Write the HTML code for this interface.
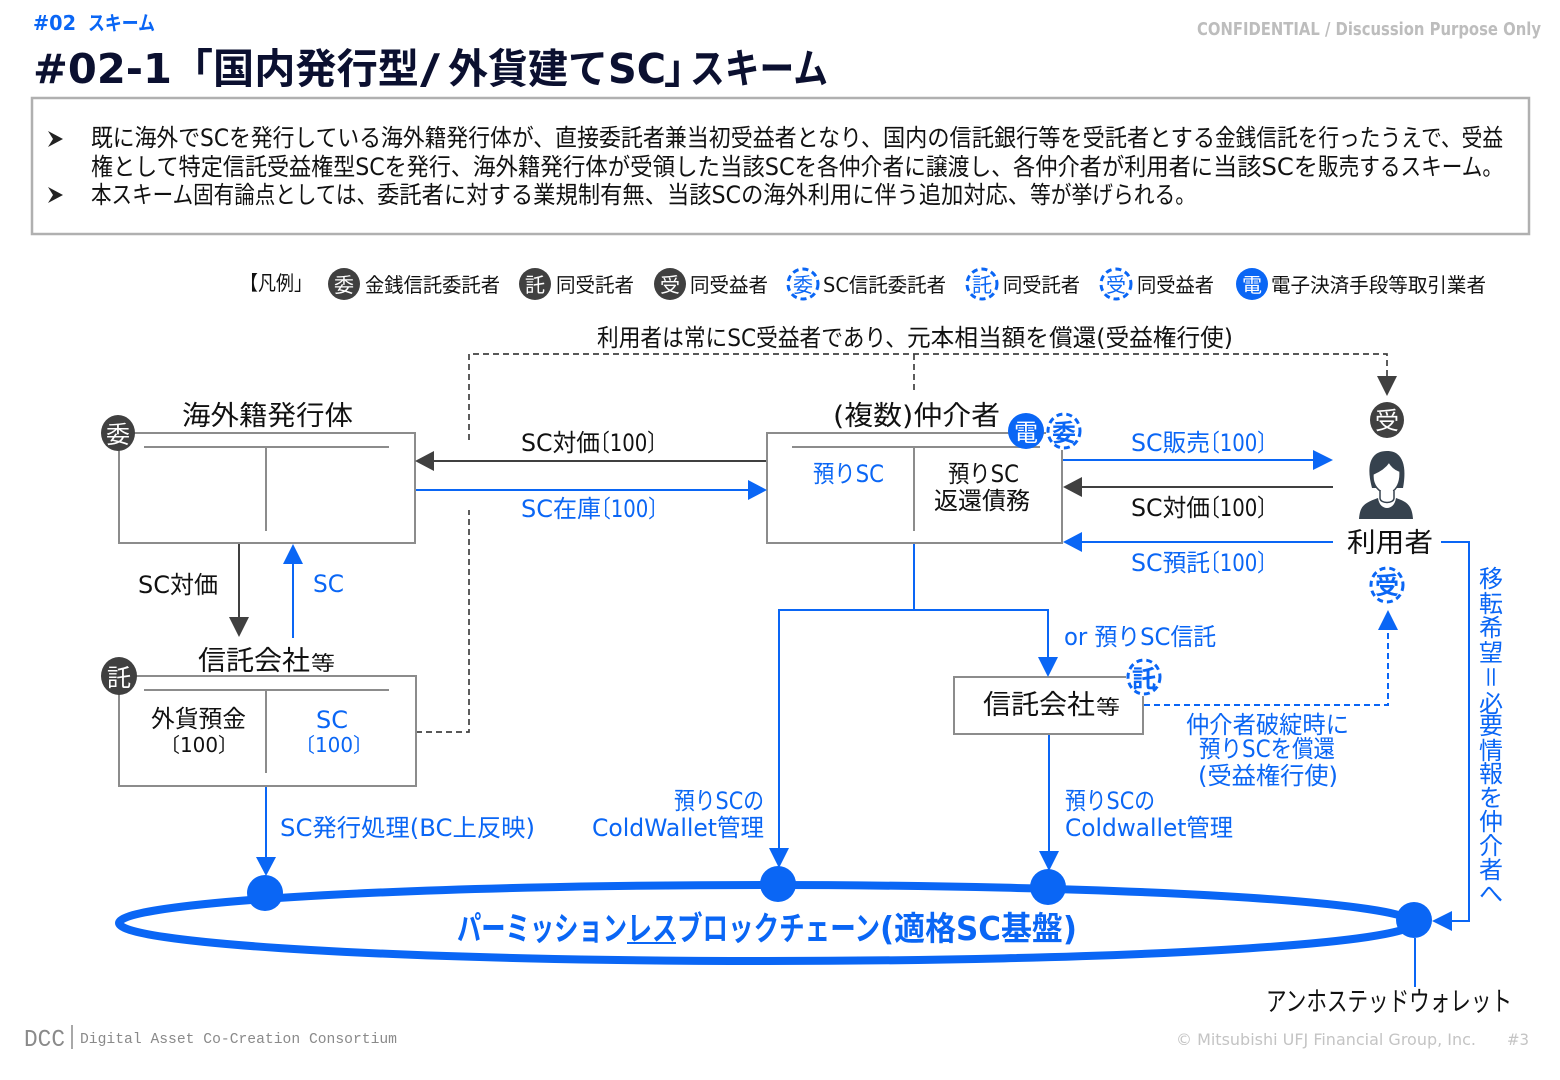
<!DOCTYPE html>
<html lang="ja">
<head>
<meta charset="utf-8">
<title>スキーム</title>
<style>
html,body{margin:0;padding:0;background:#fff;}
svg{display:block;}
text{font-family:"DejaVu Sans","Noto Sans CJK JP",sans-serif;fill:#111;}
.b{fill:#0a66f5;}
.w{fill:#fff;}
.sm{font-size:20px;}
.md{font-size:24px;}
.lg{font-size:27px;}
.ln{fill:none;stroke:#8c8c8c;stroke-width:2;}
.dk{fill:none;stroke:#404040;stroke-width:2;}
.bl{fill:none;stroke:#0a66f5;stroke-width:2;}
.ds{fill:none;stroke:#404040;stroke-width:1.7;stroke-dasharray:6 4;}
.bd{fill:none;stroke:#0a66f5;stroke-width:2;stroke-dasharray:6 4;}
</style>
</head>
<body>
<svg width="1560" height="1080" viewBox="0 0 1560 1080" xmlns="http://www.w3.org/2000/svg">
<rect width="1560" height="1080" fill="#fff"/>

<!-- header -->
<text x="33" y="30" class="b" font-size="20" font-weight="bold" textLength="43" lengthAdjust="spacingAndGlyphs">#02</text>
<text x="88" y="30" class="b" font-size="20" font-weight="bold" textLength="67" lengthAdjust="spacingAndGlyphs">スキーム</text>
<text x="1197" y="35" font-size="18" font-weight="bold" style="fill:#bdbdbd" textLength="344" lengthAdjust="spacingAndGlyphs">CONFIDENTIAL / Discussion Purpose Only</text>
<g font-size="41" font-weight="bold">
<text x="33" y="83" style="fill:#0b1030" textLength="139" lengthAdjust="spacingAndGlyphs">#02-1</text>
<text x="172" y="83" style="fill:#0b1030">「</text>
<text x="213" y="83" style="fill:#0b1030" textLength="206" lengthAdjust="spacingAndGlyphs">国内発行型</text>
<text x="420" y="83" style="fill:#0b1030" textLength="20" lengthAdjust="spacingAndGlyphs">/</text>
<text x="448" y="83" style="fill:#0b1030" textLength="160" lengthAdjust="spacingAndGlyphs">外貨建て</text>
<text x="608" y="83" style="fill:#0b1030" textLength="58" lengthAdjust="spacingAndGlyphs">SC</text>
<text x="664" y="83" style="fill:#0b1030">」</text>
<text x="690" y="83" style="fill:#0b1030" textLength="138" lengthAdjust="spacingAndGlyphs">スキーム</text>
</g>

<!-- description box -->
<rect x="32" y="98" width="1497" height="136" fill="#fff" stroke="#b0b0b0" stroke-width="2.5"/>
<path d="M48 131 L63 139 L48 147 L53 139 Z M48 187 L63 195 L48 203 L53 195 Z" fill="#222"/>
<g class="md">
<text x="91" y="146" textLength="464" lengthAdjust="spacingAndGlyphs">既に海外でSCを発行している海外籍発行体が、</text>
<text x="555" y="146" textLength="328" lengthAdjust="spacingAndGlyphs">直接委託者兼当初受益者となり、</text>
<text x="883" y="146" textLength="332" lengthAdjust="spacingAndGlyphs">国内の信託銀行等を受託者とする</text>
<text x="1215" y="146" textLength="288" lengthAdjust="spacingAndGlyphs">金銭信託を行ったうえで、受益</text>
<text x="91" y="175" textLength="382" lengthAdjust="spacingAndGlyphs">権として特定信託受益権型SCを発行、</text>
<text x="473" y="175" textLength="247" lengthAdjust="spacingAndGlyphs">海外籍発行体が受領した</text>
<text x="720" y="175" textLength="97" lengthAdjust="spacingAndGlyphs">当該SCを</text>
<text x="817" y="175" textLength="196" lengthAdjust="spacingAndGlyphs">各仲介者に譲渡し、</text>
<text x="1013" y="175" textLength="200" lengthAdjust="spacingAndGlyphs">各仲介者が利用者に</text>
<text x="1213" y="175" textLength="105" lengthAdjust="spacingAndGlyphs">当該SCを</text>
<text x="1318" y="175" textLength="185" lengthAdjust="spacingAndGlyphs">販売するスキーム。</text>
<text x="91" y="203" textLength="286" lengthAdjust="spacingAndGlyphs">本スキーム固有論点としては、</text>
<text x="377" y="203" textLength="290" lengthAdjust="spacingAndGlyphs">委託者に対する業規制有無、</text>
<text x="667" y="203" textLength="363" lengthAdjust="spacingAndGlyphs">当該SCの海外利用に伴う追加対応、</text>
<text x="1030" y="203" textLength="166" lengthAdjust="spacingAndGlyphs">等が挙げられる。</text>
</g>

<!-- legend -->
<text x="240" y="290" class="sm" textLength="72" lengthAdjust="spacingAndGlyphs">【凡例」</text>
<ellipse cx="344" cy="284" rx="16" ry="16" fill="#404040"/>
<text x="344" y="292" class="sm w" text-anchor="middle">委</text>
<text x="365" y="292" class="sm" textLength="135" lengthAdjust="spacingAndGlyphs">金銭信託委託者</text>
<ellipse cx="535" cy="284" rx="16" ry="16" fill="#404040"/>
<text x="535" y="292" class="sm w" text-anchor="middle">託</text>
<text x="556" y="292" class="sm" textLength="78" lengthAdjust="spacingAndGlyphs">同受託者</text>
<ellipse cx="670" cy="284" rx="16" ry="16" fill="#404040"/>
<text x="670" y="292" class="sm w" text-anchor="middle">受</text>
<text x="690" y="292" class="sm" textLength="78" lengthAdjust="spacingAndGlyphs">同受益者</text>
<ellipse cx="803" cy="284" rx="15" ry="15" class="bd" style="stroke-width:3;stroke-dasharray:6 4"/>
<text x="803" y="292" class="sm b" text-anchor="middle">委</text>
<text x="823" y="292" class="sm" textLength="123" lengthAdjust="spacingAndGlyphs">SC信託委託者</text>
<ellipse cx="982" cy="284" rx="15" ry="15" class="bd" style="stroke-width:3;stroke-dasharray:6 4"/>
<text x="982" y="292" class="sm b" text-anchor="middle">託</text>
<text x="1003" y="292" class="sm" textLength="77" lengthAdjust="spacingAndGlyphs">同受託者</text>
<ellipse cx="1116" cy="284" rx="15" ry="15" class="bd" style="stroke-width:3;stroke-dasharray:6 4"/>
<text x="1116" y="292" class="sm b" text-anchor="middle">受</text>
<text x="1137" y="292" class="sm" textLength="77" lengthAdjust="spacingAndGlyphs">同受益者</text>
<ellipse cx="1252" cy="284" rx="16" ry="16" fill="#0a66f5"/>
<text x="1252" y="292" class="sm w" text-anchor="middle">電</text>
<text x="1271" y="292" class="sm" textLength="215" lengthAdjust="spacingAndGlyphs">電子決済手段等取引業者</text>

<!-- top dashed -->
<text x="597" y="346" class="md" textLength="310" lengthAdjust="spacingAndGlyphs">利用者は常にSC受益者であり、</text>
<text x="907" y="346" class="md" textLength="326" lengthAdjust="spacingAndGlyphs">元本相当額を償還(受益権行使)</text>
<path class="ds" d="M469 440 V354 H1387 V376"/>
<path class="ds" d="M914 354 V392"/>
<path d="M1377 376 H1397 L1387 396 Z" fill="#404040"/>
<path class="ds" d="M416 732 H469 V510"/>

<!-- box 1 -->
<rect class="ln" x="119" y="433" width="296" height="110" fill="#fff"/>
<path class="ln" d="M144 447 H389 M266 447 V531"/>
<text x="182" y="425" class="lg" textLength="171" lengthAdjust="spacingAndGlyphs">海外籍発行体</text>
<ellipse cx="118" cy="433" rx="17" ry="18" fill="#404040"/>
<text x="118" y="443" class="md w" text-anchor="middle">委</text>

<!-- box 2 -->
<rect class="ln" x="119" y="676" width="297" height="110" fill="#fff"/>
<path class="ln" d="M144 690 H389 M266 690 V773"/>
<text x="198" y="670" class="lg" textLength="112" lengthAdjust="spacingAndGlyphs">信託会社</text>
<text x="311" y="670" class="sm" textLength="24" lengthAdjust="spacingAndGlyphs">等</text>
<ellipse cx="119" cy="676" rx="18" ry="19" fill="#404040"/>
<text x="119" y="686" class="md w" text-anchor="middle">託</text>
<text x="151" y="727" class="md" textLength="95" lengthAdjust="spacingAndGlyphs">外貨預金</text>
<text x="160" y="752" class="sm" textLength="78" lengthAdjust="spacingAndGlyphs">〔100〕</text>
<text x="316" y="728" class="md b" textLength="32" lengthAdjust="spacingAndGlyphs">SC</text>
<text x="295" y="752" class="sm b" textLength="78" lengthAdjust="spacingAndGlyphs">〔100〕</text>

<!-- box 3 -->
<rect class="ln" x="767" y="433" width="295" height="110" fill="#fff"/>
<path class="ln" d="M792 447 H1040 M914 447 V531"/>
<text x="833" y="425" class="lg" textLength="167" lengthAdjust="spacingAndGlyphs">(複数)仲介者</text>
<ellipse cx="1026" cy="431" rx="18" ry="18" fill="#0a66f5"/>
<text x="1026" y="441" class="md w" text-anchor="middle">電</text>
<rect x="1046" y="412" width="36" height="38" fill="#fff"/>
<ellipse cx="1064" cy="431" rx="16" ry="17" class="bd" style="stroke-width:3;stroke-dasharray:6 4"/>
<text x="1064" y="441" class="md b" font-weight="bold" text-anchor="middle">委</text>
<text x="813" y="482" class="md b" textLength="71" lengthAdjust="spacingAndGlyphs">預りSC</text>
<text x="948" y="482" class="md" textLength="71" lengthAdjust="spacingAndGlyphs">預りSC</text>
<text x="934" y="509" class="md" textLength="96" lengthAdjust="spacingAndGlyphs">返還債務</text>

<!-- box 4 -->
<rect class="ln" x="954" y="677" width="189" height="57" fill="#fff"/>
<text x="983" y="714" class="lg" textLength="112" lengthAdjust="spacingAndGlyphs">信託会社</text>
<text x="1096" y="714" class="sm" textLength="24" lengthAdjust="spacingAndGlyphs">等</text>
<rect x="1126" y="658" width="36" height="38" fill="#fff"/>
<ellipse cx="1144" cy="677" rx="16" ry="17" class="bd" style="stroke-width:3;stroke-dasharray:6 4"/>
<text x="1144" y="687" class="md b" font-weight="bold" text-anchor="middle">託</text>

<!-- horizontal arrows left -->
<path class="dk" d="M434 461 H766"/>
<path d="M434 451 V471 L415 461 Z" fill="#404040"/>
<text x="521" y="451" class="md" textLength="79" lengthAdjust="spacingAndGlyphs">SC対価</text>
<text x="590" y="451" class="md" textLength="77" lengthAdjust="spacingAndGlyphs">〔100〕</text>
<path class="bl" d="M416 490 H748"/>
<path d="M748 480 V500 L767 490 Z" fill="#0a66f5"/>
<text x="521" y="517" class="md b" textLength="80" lengthAdjust="spacingAndGlyphs">SC在庫</text>
<text x="591" y="517" class="md b" textLength="77" lengthAdjust="spacingAndGlyphs">〔100〕</text>

<!-- horizontal arrows right -->
<path class="bl" d="M1063 460 H1314"/>
<path d="M1313 450 V470 L1333 460 Z" fill="#0a66f5"/>
<text x="1131" y="451" class="md b" textLength="79" lengthAdjust="spacingAndGlyphs">SC販売</text>
<text x="1200" y="451" class="md b" textLength="77" lengthAdjust="spacingAndGlyphs">〔100〕</text>
<path class="dk" d="M1082 487 H1333"/>
<path d="M1082 477 V497 L1063 487 Z" fill="#404040"/>
<text x="1131" y="516" class="md" textLength="79" lengthAdjust="spacingAndGlyphs">SC対価</text>
<text x="1200" y="516" class="md" textLength="77" lengthAdjust="spacingAndGlyphs">〔100〕</text>
<path class="bl" d="M1082 542 H1333"/>
<path d="M1082 532 V552 L1063 542 Z" fill="#0a66f5"/>
<text x="1131" y="571" class="md b" textLength="79" lengthAdjust="spacingAndGlyphs">SC預託</text>
<text x="1200" y="571" class="md b" textLength="77" lengthAdjust="spacingAndGlyphs">〔100〕</text>

<!-- vertical arrows box1-box2 -->
<path class="dk" d="M239 544 V618"/>
<path d="M229 617 H249 L239 637 Z" fill="#404040"/>
<text x="138" y="593" class="md" textLength="80" lengthAdjust="spacingAndGlyphs">SC対価</text>
<path class="bl" d="M293 563 V638"/>
<path d="M283 564 H303 L293 544 Z" fill="#0a66f5"/>
<text x="313" y="592" class="md b" textLength="31" lengthAdjust="spacingAndGlyphs">SC</text>

<!-- blue flows down -->
<path class="bl" d="M266 787 V858"/>
<path d="M256 857 H276 L266 876 Z" fill="#0a66f5"/>
<text x="280" y="836" class="md b" textLength="255" lengthAdjust="spacingAndGlyphs">SC発行処理(BC上反映)</text>

<path class="bl" d="M914 544 V610 M779 850 V610 H1048 V658"/>
<path d="M769 848 H789 L779 868 Z" fill="#0a66f5"/>
<path d="M1038 657 H1058 L1048 677 Z" fill="#0a66f5"/>
<text x="1064" y="645" class="md b" textLength="152" lengthAdjust="spacingAndGlyphs">or 預りSC信託</text>
<text x="674" y="809" class="md b" textLength="90" lengthAdjust="spacingAndGlyphs">預りSCの</text>
<text x="592" y="836" class="md b" textLength="172" lengthAdjust="spacingAndGlyphs">ColdWallet管理</text>

<path class="bl" d="M1049 735 V855"/>
<path d="M1039 851 H1059 L1049 871 Z" fill="#0a66f5"/>
<text x="1065" y="809" class="md b" textLength="90" lengthAdjust="spacingAndGlyphs">預りSCの</text>
<text x="1065" y="836" class="md b" textLength="168" lengthAdjust="spacingAndGlyphs">Coldwallet管理</text>

<!-- dashed blue -->
<path class="bd" d="M1144 705 H1388 V630"/>
<path d="M1378 630 H1398 L1388 610 Z" fill="#0a66f5"/>
<text x="1186" y="733" class="md b" textLength="163" lengthAdjust="spacingAndGlyphs">仲介者破綻時に</text>
<text x="1199" y="757" class="md b" textLength="136" lengthAdjust="spacingAndGlyphs">預りSCを償還</text>
<text x="1198" y="784" class="md b" textLength="140" lengthAdjust="spacingAndGlyphs">(受益権行使)</text>

<!-- user -->
<ellipse cx="1387" cy="420" rx="17" ry="18" fill="#404040"/>
<text x="1387" y="429" class="md w" text-anchor="middle">受</text>
<path d="M1359 519 C1360 506 1364 503 1378 498 C1379 505 1383 508 1387 508 C1391 508 1395 505 1396 498 C1408 502 1412 506 1413 519 Z" fill="#36424e"/>
<path d="M1372 488 C1366 466 1370 451 1387 451 C1403 451 1407 466 1403 488 Z" fill="#36424e"/>
<path d="M1373 474 C1378 472 1385 468 1389 462 C1392 467 1396 470 1400 471 C1401 484 1395 493 1387 493 C1379 493 1372 485 1373 474 Z" fill="#fff" stroke="#36424e" stroke-width="1.5"/>
<path d="M1380 491 V498 C1380 504 1394 504 1394 498 V491" fill="#fff" stroke="#36424e" stroke-width="1.5"/>
<path d="M1381 490 C1384 493 1390 493 1393 490 V496 H1381 Z" fill="#fff"/>
<text x="1347" y="552" class="lg" textLength="86" lengthAdjust="spacingAndGlyphs">利用者</text>
<ellipse cx="1387" cy="585" rx="16" ry="17" class="bd" style="stroke-width:3;stroke-dasharray:6 4"/>
<text x="1387" y="594" class="md b" font-weight="bold" text-anchor="middle">受</text>

<!-- right connector -->
<path class="bl" d="M1441 542 H1469 V921 H1451"/>
<path d="M1452 911 V931 L1432 921 Z" fill="#0a66f5"/>
<g class="md" text-anchor="middle">
<text x="1491" y="587" class="b">移</text>
<text x="1491" y="612" class="b">転</text>
<text x="1491" y="636" class="b">希</text>
<text x="1491" y="661" class="b">望</text>
<text x="1491" y="686" class="b" transform="rotate(90 1491 677)">＝</text>
<text x="1491" y="712" class="b">必</text>
<text x="1491" y="734" class="b">要</text>
<text x="1491" y="759" class="b">情</text>
<text x="1491" y="782" class="b">報</text>
<text x="1491" y="806" class="b">を</text>
<text x="1491" y="830" class="b">仲</text>
<text x="1491" y="854" class="b">介</text>
<text x="1491" y="878" class="b">者</text>
<text x="1491" y="902" class="b">へ</text>
</g>

<!-- ellipse -->
<ellipse cx="766" cy="923" rx="647" ry="38" fill="none" stroke="#0a66f5" stroke-width="8"/>
<circle cx="265" cy="893" r="18" fill="#0a66f5"/>
<circle cx="778" cy="884" r="18" fill="#0a66f5"/>
<circle cx="1048" cy="887" r="18" fill="#0a66f5"/>
<circle cx="1414" cy="920" r="18" fill="#0a66f5"/>
<g class="b" font-size="33" font-weight="bold">
<text x="457" y="940" class="b" textLength="170" lengthAdjust="spacingAndGlyphs">パーミッション</text>
<text x="627" y="940" class="b" textLength="50" lengthAdjust="spacingAndGlyphs">レス</text>
<text x="677" y="940" class="b" textLength="203" lengthAdjust="spacingAndGlyphs">ブロックチェーン</text>
<text x="880" y="940" class="b" textLength="197" lengthAdjust="spacingAndGlyphs">(適格SC基盤)</text>
</g>
<path d="M627 943 H676" stroke="#0a66f5" stroke-width="2" fill="none"/>

<path class="bl" d="M1415 938 V987"/>
<text x="1266" y="1011" font-size="27" textLength="246" lengthAdjust="spacingAndGlyphs">アンホステッドウォレット</text>

<!-- footer -->
<text x="24" y="1046" font-size="24" style="font-family:'Liberation Mono',monospace;fill:#8a8a8a" textLength="41" lengthAdjust="spacingAndGlyphs">DCC</text>
<path d="M72 1025 V1049" stroke="#8a8a8a" stroke-width="1.5"/>
<text x="80" y="1043" font-size="15" style="font-family:'Liberation Mono',monospace;fill:#8a8a8a" textLength="317" lengthAdjust="spacingAndGlyphs">Digital Asset Co-Creation Consortium</text>
<text x="1176" y="1045" font-size="16" style="fill:#c4c4c4" textLength="300" lengthAdjust="spacingAndGlyphs">© Mitsubishi UFJ Financial Group, Inc.</text>
<text x="1507" y="1045" font-size="16" style="fill:#c4c4c4" textLength="22" lengthAdjust="spacingAndGlyphs">#3</text>
</svg>
</body>
</html>
